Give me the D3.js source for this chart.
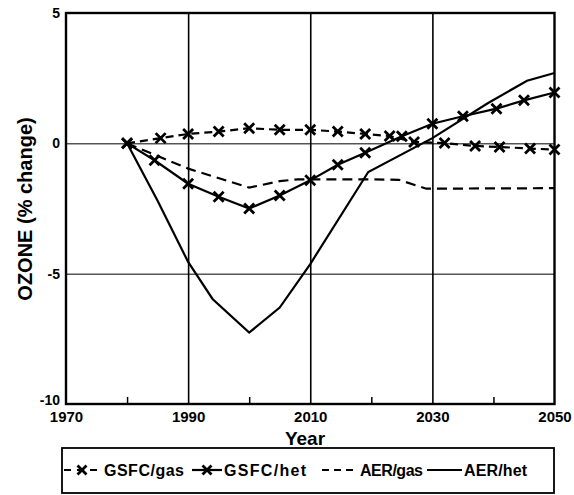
<!DOCTYPE html>
<html>
<head>
<meta charset="utf-8">
<script src="https://cdn.jsdelivr.net/npm/d3@7"></script>
<style>
  body { margin: 0; background: #fff; }
  text { font-family: "Liberation Sans", Arial, sans-serif; font-weight: bold; }
</style>
</head>
<body>
<svg id="chart" width="574" height="495"></svg>
<script>
// data: [year, % change]
const gsfcGas = [[1980, 0], [1985.5, 0.2], [1990, 0.36], [1995, 0.45], [2000, 0.58], [2005, 0.52],
  [2010, 0.52], [2014.5, 0.45], [2019, 0.36], [2023, 0.28], [2027, 0.05], [2032, 0.01],
  [2037, -0.1], [2041, -0.14], [2046, -0.2], [2050, -0.24]];
const gsfcHet = [[1980, 0], [1984.5, -0.65], [1990, -1.55], [1995, -2.05], [2000, -2.5], [2005, -2.0],
  [2010, -1.42], [2014.5, -0.82], [2019, -0.36], [2025, 0.27], [2030, 0.75], [2035, 1.04],
  [2040.5, 1.33], [2045, 1.65], [2050, 1.95]];
const aerGas = [[1980, 0], [1990, -0.97], [2000, -1.7], [2005, -1.45], [2008, -1.38], [2020, -1.38],
  [2024.5, -1.4], [2029, -1.74], [2050, -1.72]];
const aerHet = [[1980, 0], [1985, -2.2], [1990, -4.55], [1994, -5.97], [2000, -7.26], [2005, -6.3],
  [2010, -4.63], [2019.5, -1.1], [2030, 0.2], [2039, 1.53], [2045.5, 2.4], [2050, 2.7]];

const xTicks = [1970, 1990, 2010, 2030, 2050];
const xMinor = [1980, 2000, 2020, 2040];
const yTicks = [5, 0, -5, -10];

const svg = d3.select("#chart");
const x = d3.scaleLinear().domain([1970, 2050]).range([66, 554.5]);
const y = d3.scaleLinear().domain([-10, 5]).range([404, 13]);

// grid lines
svg.append("g")
  .attr("transform", "translate(0,404)")
  .call(d3.axisBottom(x).tickValues([1990, 2010, 2030]).tickSize(-391).tickFormat(""))
  .call(g => g.select(".domain").remove())
  .selectAll("line").attr("stroke", "#000").attr("stroke-width", 1.6);

svg.append("g")
  .attr("transform", "translate(66,0)")
  .call(d3.axisLeft(y).tickValues([0, -5]).tickSize(-488.5).tickFormat(""))
  .call(g => g.select(".domain").remove())
  .selectAll("line").attr("stroke", "#000").attr("stroke-width", 1);

// minor ticks along bottom
svg.append("g")
  .attr("transform", "translate(0,404)")
  .call(d3.axisBottom(x).tickValues(xMinor).tickSize(-7).tickFormat(""))
  .call(g => g.select(".domain").remove())
  .selectAll("line").attr("stroke", "#000").attr("stroke-width", 1.5);

// x tick labels
svg.append("g")
  .attr("transform", "translate(0,404)")
  .call(d3.axisBottom(x).tickValues(xTicks).tickSize(0).tickPadding(7).tickFormat(d3.format("d")))
  .call(g => g.select(".domain").remove())
  .selectAll("text").attr("font-size", "15px").attr("fill", "#000")
  .attr("font-family", "Liberation Sans, Arial, sans-serif").attr("font-weight", "bold");

// y tick labels (plain hyphen minus as in the original)
svg.append("g")
  .attr("transform", "translate(66,0)")
  .call(d3.axisLeft(y).tickValues(yTicks).tickSize(0).tickPadding(6).tickFormat(d => String(d)))
  .call(g => g.select(".domain").remove())
  .selectAll("text").attr("font-size", "14px").attr("fill", "#000")
  .attr("font-family", "Liberation Sans, Arial, sans-serif").attr("font-weight", "bold")
  .attr("y", d => d === -10 ? -4 : 0);

// frame
svg.append("rect")
  .attr("x", 66).attr("y", 13).attr("width", 488.5).attr("height", 391)
  .attr("fill", "none").attr("stroke", "#000").attr("stroke-width", 2.4);

const line = d3.line().x(d => x(d[0])).y(d => y(d[1]));

const series = [
  { data: gsfcGas, dash: "8,5", marks: true },
  { data: gsfcHet, dash: null, marks: true },
  { data: aerGas, dash: "10,6", marks: false },
  { data: aerHet, dash: null, marks: false }
];

function cross(g, cx, cy, r) {
  g.append("path")
    .attr("d", `M${cx - r},${cy - r}L${cx + r},${cy + r}M${cx - r},${cy + r}L${cx + r},${cy - r}`)
    .attr("stroke", "#000").attr("stroke-width", 2.8).attr("fill", "none");
}

series.forEach(s => {
  svg.append("path")
    .datum(s.data)
    .attr("d", line)
    .attr("fill", "none")
    .attr("stroke", "#000")
    .attr("stroke-width", 2.2)
    .attr("stroke-dasharray", s.dash);
  if (s.marks) {
    const g = svg.append("g");
    s.data.forEach(d => cross(g, x(d[0]), y(d[1]), 5));
  }
});

// axis titles
svg.append("text")
  .attr("x", 305).attr("y", 445)
  .attr("text-anchor", "middle")
  .attr("font-size", "19px")
  .text("Year");

svg.append("text")
  .attr("transform", "translate(32,209) rotate(-90)")
  .attr("text-anchor", "middle")
  .attr("font-size", "20px")
  .text("OZONE (% change)");

// legend
const lg = svg.append("g");
lg.append("rect")
  .attr("x", 62).attr("y", 448).attr("width", 492).attr("height", 45)
  .attr("fill", "none").attr("stroke", "#000").attr("stroke-width", 1.8);

const legendItems = [
  { label: "GSFC/gas", x0: 64, x1: 100, tx: 104, w: 80, dash: "7,6", marks: true },
  { label: "GSFC/het", x0: 192, x1: 222, tx: 224, w: 82, dash: null, marks: true },
  { label: "AER/gas", x0: 322, x1: 356, tx: 360, w: 63, dash: "7,5", marks: false },
  { label: "AER/het", x0: 427, x1: 462, tx: 464, w: 63, dash: null, marks: false }
];
legendItems.forEach(it => {
  lg.append("line")
    .attr("x1", it.x0).attr("x2", it.x1).attr("y1", 470).attr("y2", 470)
    .attr("stroke", "#000").attr("stroke-width", 2.2)
    .attr("stroke-dasharray", it.dash);
  if (it.marks) cross(lg, (it.x0 + it.x1) / 2, 470, 4.5);
  lg.append("text")
    .attr("x", it.tx).attr("y", 476)
    .attr("font-size", "16px")
    .attr("textLength", it.w)
    .attr("lengthAdjust", "spacing")
    .text(it.label);
});
</script>
</body>
</html>
